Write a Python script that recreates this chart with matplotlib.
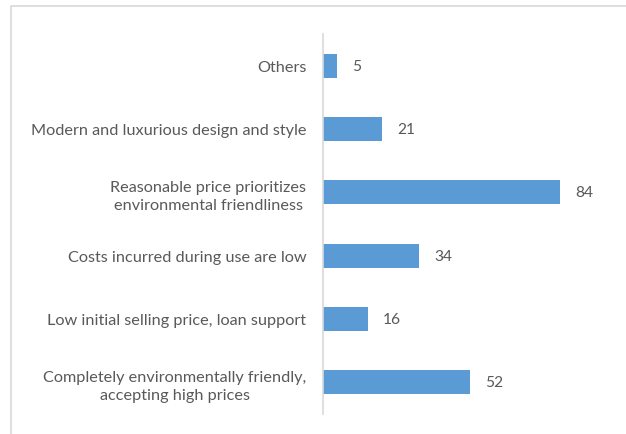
import matplotlib.pyplot as plt
from matplotlib.patches import Rectangle

categories = [
    "Completely environmentally friendly,\naccepting high prices",
    "Low initial selling price, loan support",
    "Costs incurred during use are low",
    "Reasonable price prioritizes\nenvironmental friendliness",
    "Modern and luxurious design and style",
    "Others",
]
counts = [52, 16, 34, 84, 21, 5]

bar_color = "#5B9BD5"
text_color = "#595959"

plt.rcParams['font.family'] = ['Lato', 'DejaVu Sans']

fig = plt.figure(figsize=(6.26, 4.35), dpi=100)
# chart frame, only the top and left edges fall inside the image
fig.patches.append(Rectangle((11 / 626, -0.1), 1.2, 1 - 7 / 435 + 0.1,
                             transform=fig.transFigure, fill=False,
                             edgecolor="#D9D9D9", linewidth=1.2))

ax = fig.add_axes([323 / 626, 20 / 435, 254 / 626, 380 / 435])
y = range(len(categories))
ax.barh(y, counts, height=0.38, color=bar_color)
ax.set_xlim(0, 90)
ax.set_ylim(-0.5, len(categories) - 0.5)

for spine in ["top", "right", "bottom"]:
    ax.spines[spine].set_visible(False)
ax.spines["left"].set_color("#D9D9D9")
ax.spines["left"].set_linewidth(1.2)
ax.set_xticks([])
ax.set_yticks(list(y))
ax.set_yticklabels(categories, fontsize=11.7, color=text_color,
                   multialignment="center", linespacing=1.35)
ax.tick_params(axis="y", length=0, pad=12)

for i, v in enumerate(counts):
    ax.text(v + 5.3, i, str(v), va="center", ha="left",
            fontsize=11.2, color=text_color)

fig.savefig("out.png", dpi=100)
